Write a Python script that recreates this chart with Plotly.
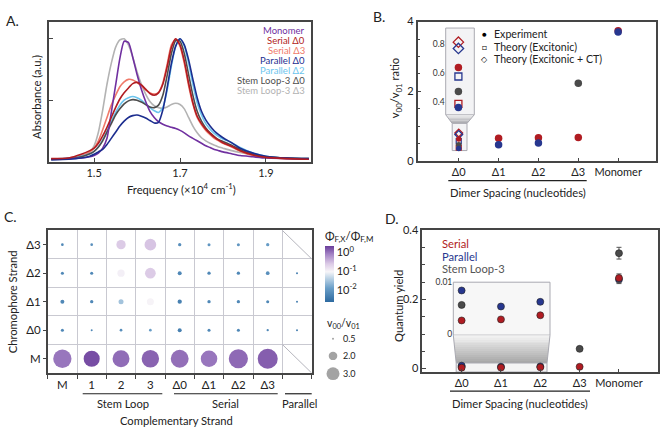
import plotly.graph_objects as go
import numpy as np

W, H = 661, 434
FONT = "Lato"
def X(px): return px / W
def Y(py): return 1 - py / H

# ---------------- Panel A data ----------------
freq = [1.40, 1.44, 1.47, 1.49, 1.50, 1.51, 1.52, 1.53, 1.54, 1.55, 1.56, 1.57, 1.58, 1.59, 1.60,
        1.61, 1.62, 1.63, 1.64, 1.65, 1.66, 1.67, 1.68, 1.69, 1.70, 1.71, 1.72, 1.73, 1.74, 1.75,
        1.76, 1.77, 1.78, 1.79, 1.80, 1.82, 1.84, 1.87, 1.90, 1.95, 2.00]
abs_monomer = [.02, .025, .03, .04, .05, .07, .11, .19, .40, .62, .84, .98, .97, .85, .71,
               .59, .49, .41, .36, .325, .305, .29, .28, .27, .255, .235, .21, .19, .17, .15,
               .13, .115, .10, .09, .08, .065, .05, .04, .03, .025, .02]
abs_serial_d0 = [.025, .03, .06, .09, .11, .15, .21, .28, .36, .44, .51, .56, .60, .635, .645,
                 .625, .59, .555, .54, .56, .63, .77, .93, 1.0, .95, .82, .64, .48, .37, .31,
                 .265, .23, .20, .175, .155, .125, .09, .055, .035, .025, .02]
abs_serial_d3 = [.02, .03, .05, .08, .11, .17, .26, .36, .46, .54, .61, .65, .67, .665, .645,
                 .615, .585, .56, .55, .565, .64, .79, .95, .995, .94, .80, .62, .47, .36, .30,
                 .255, .22, .19, .17, .15, .12, .085, .05, .035, .025, .02]
abs_parallel_d0 = [.015, .02, .03, .045, .06, .08, .10, .14, .19, .24, .29, .33, .36, .375, .38,
                   .37, .355, .335, .315, .32, .42, .60, .80, .94, 1.0, .95, .83, .67, .52, .41,
                   .34, .29, .25, .22, .195, .155, .11, .07, .045, .03, .025]
abs_parallel_d2 = [.02, .03, .045, .065, .085, .12, .18, .25, .33, .40, .46, .50, .52, .53, .52,
                   .50, .47, .44, .415, .40, .44, .58, .78, .94, 1.0, .94, .80, .63, .48, .38,
                   .31, .265, .23, .205, .185, .155, .115, .07, .045, .03, .025]
abs_stem_d0 = [.02, .025, .04, .065, .085, .12, .17, .24, .31, .38, .43, .47, .495, .505, .50,
               .485, .465, .445, .44, .46, .54, .70, .88, .985, .98, .88, .71, .54, .41, .33,
               .275, .235, .205, .18, .165, .135, .10, .06, .04, .03, .025]
abs_stem_d3 = [.02, .025, .04, .08, .13, .24, .42, .63, .80, .93, .99, 1.0, .95, .85, .73,
               .63, .55, .49, .455, .44, .435, .445, .465, .475, .465, .43, .36, .29, .235, .195,
               .17, .15, .135, .12, .11, .09, .075, .055, .04, .03, .025]
spec_names = ["Monomer", "Serial Δ0", "Serial Δ3", "Parallel Δ0", "Parallel Δ2",
              "Stem Loop-3 Δ0", "Stem Loop-3 Δ3"]
spec_colors = ["#7030a0", "#b01c22", "#f07a6a", "#1c2d8f", "#6cc5ee", "#4d4d4d", "#b3b3b3"]
spec_data = [abs_monomer, abs_serial_d0, abs_serial_d3, abs_parallel_d0, abs_parallel_d2,
             abs_stem_d0, abs_stem_d3]
draw_order = [6, 2, 4, 5, 0, 3, 1]

# ---------------- Panel B data ----------------
spacing = ["Δ0", "Δ1", "Δ2", "Δ3", "Monomer"]
ratio_serial = [0.638, 0.66, 0.67, 0.68, 3.74]
ratio_parallel = [0.365, 0.47, 0.52, None, 3.70]
ratio_stem = [0.473, None, None, 2.23, None]
theory_exc_serial = 0.389
theory_exc_parallel = 0.576
theory_ct_serial = 0.81
theory_ct_parallel = 0.767

# ---------------- Panel C data ----------------
comp_labels = ["M", "1", "2", "3", "Δ0", "Δ1", "Δ2", "Δ3", ""]
chrom_labels = ["M", "Δ0", "Δ1", "Δ2", "Δ3"]
ratio_grid = [  # v00/v01 (rows: M, Δ0, Δ1, Δ2, Δ3)
    [4.2, 3.7, 3.9, 4.0, 4.1, 3.8, 4.4, 4.6, None],
    [0.73, 0.5, 0.66, 0.66, 0.95, 0.73, 0.73, 0.57, 0.5],
    [0.95, 0.8, 1.18, 1.64, 1.02, 0.8, 0.8, 0.73, 0.5],
    [0.73, 0.73, 1.7, 2.48, 0.95, 0.8, 0.8, 0.89, 0.5],
    [0.66, 0.66, 2.16, 2.7, 0.8, 0.73, 0.73, 0.8, None],
]
phi_grid = [  # Phi_F,X / Phi_F,M
    [1.0, 1.78, 1.15, 1.3, 1.1, 1.0, 1.2, 1.4, None],
    [0.0063, 0.0063, 0.008, 0.012, 0.005, 0.0063, 0.0063, 0.0063, 0.005],
    [0.0063, 0.0063, 0.03, 0.1, 0.005, 0.0063, 0.0063, 0.0063, 0.005],
    [0.0063, 0.0063, 0.11, 0.25, 0.0063, 0.0063, 0.0063, 0.008, 0.005],
    [0.0063, 0.008, 0.25, 0.28, 0.008, 0.01, 0.01, 0.012, None],
]
size_legend_vals = [0.5, 2.0, 3.0]

# ---------------- Panel D data ----------------
qy_serial = [0.0026, 0.0028, 0.0036, 0.005, 0.262]
qy_parallel = [0.0084, 0.0053, 0.0062, None, 0.258]
qy_stem = [0.0056, None, None, 0.057, 0.334]
qy_serial_err = [0.0002, 0.0002, 0.0002, 0.0002, 0.012]
qy_parallel_err = [0.0002, 0.0002, 0.0004, 0.0, 0.012]
qy_stem_err = [0.0002, 0.0, 0.0, 0.0015, 0.017]

RED, BLUE, GREY = "#b01c22", "#27378f", "#4a4a4a"
AX = "#454545"

def dot_size(v):
    return 2 + 4.4 * (v - 0.5)

fig = go.Figure()

# ---- A traces ----
for i in draw_order:
    fig.add_trace(go.Scatter(x=freq, y=spec_data[i], mode="lines", line=dict(color=spec_colors[i], width=1.6, shape="spline", smoothing=0.6),
                             xaxis="x", yaxis="y", name=spec_names[i]))

# ---- B traces ----
xi = list(range(len(spacing)))
for vals, col in [(ratio_serial, RED), (ratio_parallel, BLUE), (ratio_stem, GREY)]:
    fig.add_trace(go.Scatter(x=xi[1:], y=vals[1:], mode="markers", marker=dict(color=col, size=7.5),
                             xaxis="x2", yaxis="y2"))
# small markers at Δ0 in main axis
fig.add_trace(go.Scatter(x=[0, 0], y=[theory_ct_serial, theory_ct_parallel], mode="markers",
                         marker=dict(symbol="diamond-open", color=[RED, BLUE], size=6, line=dict(width=1.3)), xaxis="x2", yaxis="y2"))
fig.add_trace(go.Scatter(x=[0, 0], y=[theory_exc_serial, theory_exc_parallel], mode="markers",
                         marker=dict(symbol="square-open", color=[RED, BLUE], size=5, line=dict(width=1.2)), xaxis="x2", yaxis="y2"))
fig.add_trace(go.Scatter(x=[0, 0, 0], y=[ratio_serial[0], ratio_stem[0], ratio_parallel[0]], mode="markers",
                         marker=dict(color=[RED, GREY, BLUE], size=5.5), xaxis="x2", yaxis="y2"))
# inset
fig.add_trace(go.Scatter(x=[0, 0], y=[theory_ct_serial, theory_ct_parallel], mode="markers",
                         marker=dict(symbol="diamond-open", color=[RED, BLUE], size=8, line=dict(width=1.3)), xaxis="x3", yaxis="y3"))
fig.add_trace(go.Scatter(x=[0, 0], y=[theory_exc_serial, theory_exc_parallel], mode="markers",
                         marker=dict(symbol="square-open", color=[RED, BLUE], size=7, line=dict(width=1.3)), xaxis="x3", yaxis="y3"))
fig.add_trace(go.Scatter(x=[0, 0, 0], y=[ratio_serial[0], ratio_stem[0], ratio_parallel[0]], mode="markers",
                         marker=dict(color=[RED, GREY, BLUE], size=7.5), xaxis="x3", yaxis="y3"))

# ---- C trace ----
cx, cy, cs_, cc = [], [], [], []
for r, row in enumerate(ratio_grid):
    for c, v in enumerate(row):
        if v is None:
            continue
        cx.append(c); cy.append(r); cs_.append(dot_size(v)); cc.append(float(np.log10(phi_grid[r][c])))
cscale = [[0, "#2d6aa0"], [0.25, "#6b9fc8"], [0.45, "#c9dbea"], [0.54, "#f7f5f8"],
          [0.68, "#dccbe6"], [0.85, "#a585c6"], [1, "#6a3d9a"]]
fig.add_trace(go.Scatter(x=cx, y=cy, mode="markers", xaxis="x4", yaxis="y4",
                         marker=dict(size=cs_, color=cc, colorscale=cscale, cmin=-2.62, cmax=0.35,
                                     line=dict(width=0), opacity=1,
                                     colorbar=dict(x=X(325), xanchor="left", y=Y(246.3), yanchor="top",
                                                   lenmode="pixels", len=56, thicknessmode="pixels", thickness=9,
                                                   xpad=0, ypad=0, outlinewidth=0, ticks="",
                                                   tickvals=[0, -1, -2],
                                                   ticktext=["10<sup>0</sup>", "10<sup>-1</sup>", "10<sup>-2</sup>"],
                                                   tickfont=dict(size=11, color="#222", family=FONT)))))

# ---- D traces ----
for vals, err, col in [(qy_stem, qy_stem_err, GREY), (qy_parallel, qy_parallel_err, BLUE), (qy_serial, qy_serial_err, RED)]:
    fig.add_trace(go.Scatter(x=xi, y=vals, mode="markers", xaxis="x5", yaxis="y5",
                             error_y=dict(type="data", array=err, color="#555", thickness=1, width=2.5),
                             marker=dict(color=col, size=7, line=dict(width=0.6, color="#222"))))
for vals, err, col in [(qy_stem, qy_stem_err, GREY), (qy_parallel, qy_parallel_err, BLUE), (qy_serial, qy_serial_err, RED)]:
    fig.add_trace(go.Scatter(x=xi[:3], y=vals[:3], mode="markers", xaxis="x6", yaxis="y6",
                             error_y=dict(type="data", array=err[:3], color="#555", thickness=1, width=2.5),
                             marker=dict(color=col, size=7, line=dict(width=0.6, color="#222"))))

# ---------------- axes ----------------
tf = dict(family=FONT, size=11, color="#222")
box = dict(showline=True, linecolor=AX, linewidth=1.5, mirror=True, zeroline=False, showgrid=False)
lay = dict(
    xaxis=dict(domain=[X(49), X(311)], range=[1.395, 2.005], tickvals=[1.5, 1.7, 1.9], ticktext=["1.5", "1.7", "1.9"],
               ticks="inside", ticklen=4, tickcolor=AX, tickfont=tf, anchor="y", **box),
    yaxis=dict(domain=[Y(160), Y(15)], range=[-0.004, 1.14], tickvals=[0.5, 1.0], showticklabels=False,
               ticks="inside", ticklen=4, tickcolor=AX, anchor="x", **box),
    xaxis2=dict(domain=[X(417.7), X(656)], range=[-1.03, 4.95], tickvals=xi, ticktext=spacing, ticks="inside",
                ticklen=3, tickcolor=AX, tickfont=tf, anchor="y2", **box),
    yaxis2=dict(domain=[Y(159), Y(15)], range=[0, 4], tickvals=[0, 2, 4], ticks="inside", ticklen=4, tickcolor=AX,
                tickfont=tf, anchor="x2", minor=dict(dtick=0.5, tick0=0, ticks="inside", ticklen=3, tickcolor=AX), **box),
    xaxis3=dict(domain=[X(445.7), X(474.3)], range=[-0.32, 0.40], visible=False, anchor="y3"),
    yaxis3=dict(domain=[Y(111), Y(21.7)], range=[0.316, 0.906], tickvals=[0.4, 0.6, 0.8], ticktext=["0.4", "0.6", "0.8"],
                ticks="", showline=False, showgrid=False, zeroline=False,
                tickfont=dict(family=FONT, size=8.5, color="#333"), anchor="x3"),
    xaxis4=dict(domain=[X(47.7), X(311.7)], range=[-0.5, 8.5], tickvals=list(range(9)), ticktext=comp_labels,
                ticks="", tickfont=dict(family=FONT, size=11.5, color="#222"), anchor="y4",
                minor=dict(tick0=0.5, dtick=1, ticks="outside", ticklen=4, tickcolor=AX, showgrid=True,
                           gridcolor="#c9c9d1", gridwidth=1),
                showline=True, linecolor=AX, linewidth=1.5, mirror=True, zeroline=False, showgrid=False),
    yaxis4=dict(domain=[Y(377.3), Y(230.3)], range=[-0.5, 4.5], tickvals=list(range(5)), ticktext=chrom_labels,
                ticks="outside", ticklen=3, tickcolor=AX, tickfont=dict(family=FONT, size=11.5, color="#222"), anchor="x4",
                minor=dict(tick0=0.5, dtick=1, ticks="", showgrid=True, gridcolor="#c9c9d1", gridwidth=1),
                showline=True, linecolor=AX, linewidth=1.5, mirror=True, zeroline=False, showgrid=False),
    xaxis5=dict(domain=[X(422.3), X(658.3)], range=[-1, 5], tickvals=xi, ticktext=spacing, ticks="inside",
                ticklen=3, tickcolor=AX, tickfont=tf, anchor="y5", **box),
    yaxis5=dict(domain=[Y(376.3), Y(230.3)], range=[-0.0101, 0.4], tickvals=[0, 0.2, 0.4], ticktext=["0", "0.2", "0.4"],
                ticks="inside", ticklen=4, tickcolor=AX, tickfont=tf, anchor="x5",
                minor=dict(dtick=0.05, tick0=0, ticks="inside", ticklen=3, tickcolor=AX), **box),
    xaxis6=dict(domain=[X(453.3), X(550)], range=[-0.212, 2.247], visible=False, anchor="y6"),
    yaxis6=dict(domain=[Y(338.3), Y(283.7)], range=[-0.00025, 0.01], tickvals=[0, 0.01], ticktext=["0", "0.01"],
                ticks="", showline=False, showgrid=False, zeroline=False,
                tickfont=dict(family=FONT, size=8.5, color="#333"), anchor="x6"),
)

# ---------------- shapes ----------------
shapes = []
def prect(x0, y0, x1, y1, fill, line="#a9a9b1", lw=1, layer="below"):
    shapes.append(dict(type="rect", xref="paper", yref="paper", x0=X(x0), x1=X(x1), y0=Y(y1), y1=Y(y0),
                       fillcolor=fill, line=dict(color=line, width=lw), layer=layer))
def pline(x0, y0, x1, y1, color="#222", lw=1.2):
    shapes.append(dict(type="line", xref="paper", yref="paper", x0=X(x0), x1=X(x1), y0=Y(y0), y1=Y(y1),
                       line=dict(color=color, width=lw)))
def hexc(c):
    return tuple(int(c[i:i + 2], 16) for i in (1, 3, 5))
def grad_trap(xlt, xrt, xlb, xrb, yt, yb, ctop, cbot, n=10):
    a, b = hexc(ctop), hexc(cbot)
    for i in range(n):
        t0, t1 = i / n, (i + 1) / n
        tm = (t0 + t1) / 2
        col = "rgb(%d,%d,%d)" % tuple(int(a[k] + (b[k] - a[k]) * tm) for k in range(3))
        ya, yb2 = yt + (yb - yt) * t0, yt + (yb - yt) * t1
        la, ra = xlt + (xlb - xlt) * t0, xrt + (xrb - xrt) * t0
        lb, rb = xlt + (xlb - xlt) * t1, xrt + (xrb - xrt) * t1
        path = "M %f,%f L %f,%f L %f,%f L %f,%f Z" % (X(la), Y(ya), X(ra), Y(ya), X(rb), Y(yb2), X(lb), Y(yb2))
        shapes.append(dict(type="path", xref="paper", yref="paper", path=path, fillcolor=col,
                           line=dict(width=0), layer="below"))
    for (x0, x1) in [(xlt, xlb), (xrt, xrb)]:
        shapes.append(dict(type="line", xref="paper", yref="paper", x0=X(x0), x1=X(x1), y0=Y(yt), y1=Y(yb),
                           line=dict(color="#a9a9b1", width=1), layer="below"))

# B inset decoration
prect(445.7, 21.7, 474.3, 111, "#f3f3f5")
grad_trap(445.7, 474.3, 452.2, 467.0, 111, 120, "#ececee", "#a9a9ad", n=6)
prect(452.2, 120, 467.0, 148, "#f3f3f5")
# D inset decoration
prect(453.3, 283.7, 550, 338.3, "#f7f7f7")
grad_trap(453.3, 550, 456.2, 547, 338.3, 367, "#f4f4f4", "#a6a6a6", n=14)
prect(456.2, 367, 547, 376.3, "#f4f4f4")
# C diagonals
for (y0, y1) in [(4.5, 3.5), (0.5, -0.5)]:
    shapes.append(dict(type="line", xref="x4", yref="y4", x0=7.5, x1=8.5, y0=y0, y1=y1,
                       line=dict(color="#b5b5bd", width=1)))
# group lines
pline(448.3, 179, 586.7, 179)
pline(450, 396, 590, 396)
pline(82.7, 398.7, 162.3, 398.7)
pline(174, 398.7, 277.7, 398.7)
pline(285, 398.7, 311.7, 398.7)
# size legend circles
for v, py in zip(size_legend_vals, [342, 359.7, 378]):
    d = dot_size(v)
    shapes.append(dict(type="circle", xref="paper", yref="paper", x0=X(333 - d / 2), x1=X(333 + d / 2),
                       y0=Y(py + d / 2), y1=Y(py - d / 2), fillcolor="#a3a3a3", line=dict(width=0)))

# ---------------- annotations ----------------
ann = []
def txt(x, y, s, size=11.2, color="#222", xanchor="center", angle=0, yanchor="middle"):
    ann.append(dict(x=X(x), y=Y(y), xref="paper", yref="paper", text=s, showarrow=False, xanchor=xanchor,
                    yanchor=yanchor, textangle=angle, font=dict(family=FONT, size=size, color=color)))

txt(12, 14, "A.", size=14)
txt(379, 10, "B.", size=14)
txt(10, 216, "C.", size=14)
txt(392, 218, "D.", size=14)
# A
for k, (nm, col) in enumerate(zip(spec_names, spec_colors)):
    txt(307, 24 + 10.4 * k, nm, size=9.5, color=col, xanchor="right")
txt(181.7, 186.7, "Frequency (×10<sup>4</sup> cm<sup>-1</sup>)")
txt(36.7, 93, "Absorbance (a.u.)", angle=-90)
# B
txt(395.7, 84, "v<sub>00</sub>/v<sub>01</sub> ratio", angle=-90)
txt(517.5, 191.7, "Dimer Spacing (nucleotides)")
for k, (sym, lab) in enumerate([("●", "Experiment"), ("□", "Theory (Excitonic)"), ("◇", "Theory (Excitonic + CT)")]):
    txt(484, 28.3 + 12.5 * k, sym, size=8, color="#000")
    txt(492, 28.3 + 12.5 * k, lab, size=10.6, xanchor="left")
# C
txt(12.7, 303.7, "Chromophore Strand", angle=-90)
txt(122.5, 408.7, "Stem Loop")
txt(225.8, 408.7, "Serial")
txt(299, 408.7, "Parallel")
txt(176.7, 426.3, "Complementary Strand")
txt(323, 237, "Φ<sub>F,X</sub>/Φ<sub>F,M</sub>", size=11.5, xanchor="left")
txt(325, 327, "v<sub>00</sub>/v<sub>01</sub>", size=10.5, xanchor="left")
for v, py in zip(size_legend_vals, [342, 359.7, 378]):
    txt(341, py, "%.1f" % v, size=9, xanchor="left")
# D
txt(398.3, 307.8, "Quantum yield", angle=-90)
txt(520, 408.3, "Dimer Spacing (nucleotides)")
txt(440, 244.3, "Serial", color=RED, xanchor="left")
txt(440, 256.8, "Parallel", color=BLUE, xanchor="left")
txt(440, 269.3, "Stem Loop-3", color="#555", xanchor="left")

fig.update_layout(width=W, height=H, margin=dict(l=0, r=0, t=0, b=0), showlegend=False,
                  paper_bgcolor="white", plot_bgcolor="rgba(0,0,0,0)", font=dict(family=FONT, color="#222"),
                  shapes=shapes, annotations=ann, **lay)
fig.write_html("out.html")
